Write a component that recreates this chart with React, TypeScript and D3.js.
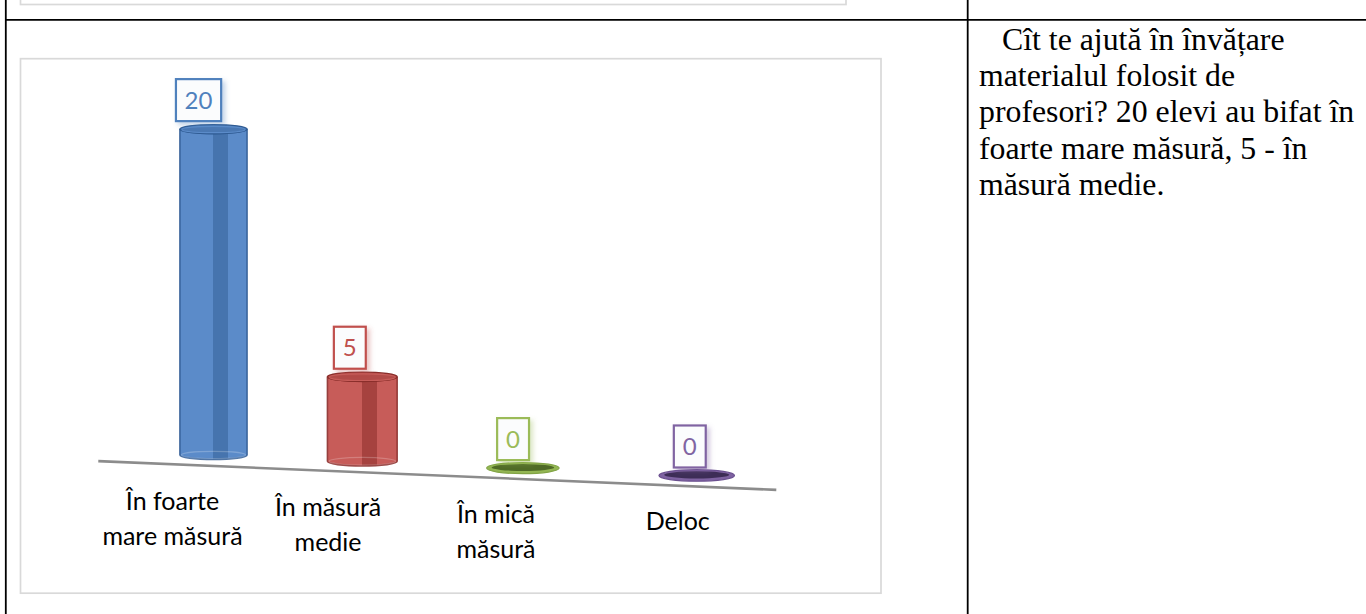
import React from "react";
import * as d3 from "d3";

// Survey answers: how much the teaching material helps with learning
const categoryIds = ["foarte", "medie", "mica", "deloc"];
const categoryLines = [
  ["În foarte", "mare măsură"],
  ["În măsură", "medie"],
  ["În mică", "măsură"],
  ["Deloc"],
];
const values = [20, 5, 0, 0];
const valueMax = 20;

// per-series palette: body, stripe, edge, cap
const bodyColors = ["#5b8bc9", "#c75c59", "#93b653", "#7e62a1"];
const stripeColors = ["#4674ae", "#a6423f", "#76963c", "#5f4683"];
const edgeColors = ["#2f5b93", "#8a2e2b", "#82a445", "#6a4f8f"];
const capColors = ["#4a78b3", "#b24b48", "#4f6a26", "#3d2d56"];
const labelColors = ["#4f81bd", "#c0504d", "#9bbb59", "#8064a2"];

const noteLines = [
  "Cît te ajută în învățare",
  "materialul folosit de",
  "profesori? 20 elevi au bifat în",
  "foarte mare măsură, 5 - în",
  "măsură medie.",
];

const W = 1366;
const H = 614;

// perspective floor: the category axis recedes toward the left
const RHO = 0.856; // depth ratio, near end vs far end
const FLOOR_X0 = 143.1;
const FLOOR_SPAN = 646;
const FLOOR_Y0 = 452;
const FLOOR_SLOPE = 0.0424;
const FRONT_EDGE = 11;
const VANISH_X = 1114;
const BAR_W = 66;
const CAP_RY = 4.4;

const depth = (t: number) => 1 - t * (1 - RHO);
const scaleAt = (t: number) => 1 / depth(t);
const screenT = (t: number) => (t * RHO) / depth(t);
const floorX = d3.scaleLinear().domain([0, 1]).range([FLOOR_X0, FLOOR_X0 + FLOOR_SPAN]);
const floorY = (x: number) => FLOOR_Y0 + FLOOR_SLOPE * (x - FLOOR_X0);

const band = d3.scaleBand<string>().domain(categoryIds).range([0, 1]).padding(0);
const height = d3.scaleLinear().domain([0, valueMax]).range([0, 320]);

// side of a cylinder: straight walls, front half of the top and bottom rims
function cylinderBody(cx: number, yTop: number, yBot: number, rx: number, ry: number) {
  return (
    `M${cx - rx},${yTop} L${cx - rx},${yBot} ` +
    `A${rx},${ry} 0 0 0 ${cx + rx},${yBot} ` +
    `L${cx + rx},${yTop} ` +
    `A${rx},${ry} 0 0 1 ${cx - rx},${yTop} Z`
  );
}

export default function App() {
  const bars = categoryIds.map((id, i) => {
    const t = (band(id) as number) + band.bandwidth() / 2;
    const s = scaleAt(t);
    const cx = floorX(screenT(t));
    const yBot = floorY(cx);
    const h = height(values[i]) * s;
    const yTop = yBot - h;
    const rx = (BAR_W * s) / 2;
    const ry = CAP_RY * s;
    return { id, i, t, s, cx, yBot, yTop, rx, ry, v: values[i] };
  });

  const axisT = [-0.082, 0.983];
  const axisPts = axisT.map((t) => {
    const x = floorX(screenT(t));
    return [x, floorY(x) + FRONT_EDGE] as [number, number];
  });

  const chartFont = "Lato, 'Open Sans', sans-serif";

  return (
    <div style={{ position: "absolute", left: 0, top: 0, width: W, height: H, background: "#fff" }}>
      <svg width={W} height={H} viewBox={`0 0 ${W} ${H}`} style={{ display: "block" }}>
        <defs>
          {bars.map((b) => (
            <linearGradient key={b.id} id={`body-${b.id}`} x1="0" y1="0" x2="1" y2="0">
              <stop offset="0" stopColor={bodyColors[b.i]} />
              <stop offset="0.5" stopColor={bodyColors[b.i]} />
              <stop offset="0.5" stopColor={stripeColors[b.i]} />
              <stop offset="0.71" stopColor={stripeColors[b.i]} />
              <stop offset="0.71" stopColor={bodyColors[b.i]} />
              <stop offset="1" stopColor={bodyColors[b.i]} />
            </linearGradient>
          ))}
          {bars.map((b) => (
            <filter key={b.id} id={`glow-${b.id}`} x="-40%" y="-40%" width="190%" height="190%">
              <feDropShadow dx="3" dy="3" stdDeviation="2.6" floodColor={labelColors[b.i]} floodOpacity="0.35" />
            </filter>
          ))}
        </defs>

        {/* previous chart frame, cut off at the top */}
        <rect x={20.5} y={-20} width={825.5} height={24.5} fill="#fff" stroke="#d9d9d9" strokeWidth={1.7} />

        {/* table rules */}
        <line x1={5.8} y1={0} x2={5.8} y2={H} stroke="#000" strokeWidth={1.8} />
        <line x1={967.7} y1={0} x2={967.7} y2={H} stroke="#000" strokeWidth={1.8} />
        <line x1={5} y1={19.8} x2={W} y2={19.8} stroke="#000" strokeWidth={1.8} />

        {/* chart frame */}
        <rect x={20.5} y={58.7} width={860.5} height={534.5} fill="#fff" stroke="#d9d9d9" strokeWidth={1.7} />

        {/* floor front edge */}
        <line
          x1={axisPts[0][0]}
          y1={axisPts[0][1]}
          x2={axisPts[1][0]}
          y2={axisPts[1][1]}
          stroke="#8c8c8c"
          strokeWidth={2.6}
        />

        {bars.map((b) =>
          b.v > 0 ? (
            <g key={b.id}>
              <path
                d={cylinderBody(b.cx, b.yTop, b.yBot, b.rx, b.ry)}
                fill={`url(#body-${b.id})`}
                stroke={edgeColors[b.i]}
                strokeWidth={1.6}
                strokeOpacity={0.85}
              />
              <ellipse
                cx={b.cx}
                cy={b.yBot}
                rx={b.rx - 1.5}
                ry={b.ry - 0.8}
                fill="none"
                stroke="#fff"
                strokeOpacity={0.22}
                strokeWidth={1.2}
              />
              <ellipse
                cx={b.cx}
                cy={b.yTop}
                rx={b.rx}
                ry={b.ry}
                fill={capColors[b.i]}
                stroke={edgeColors[b.i]}
                strokeWidth={1.4}
              />
              <ellipse
                cx={b.cx}
                cy={b.yTop + 0.4}
                rx={b.rx - 2}
                ry={b.ry - 1.3}
                fill="none"
                stroke={bodyColors[b.i]}
                strokeWidth={1.2}
              />
            </g>
          ) : (
            <g key={b.id}>
              <ellipse
                cx={b.cx}
                cy={b.yBot}
                rx={b.rx}
                ry={b.ry * 1.15}
                fill={bodyColors[b.i]}
                stroke={edgeColors[b.i]}
                strokeWidth={1.2}
              />
              <ellipse
                cx={b.cx}
                cy={b.yBot - 0.6}
                rx={b.rx - 4.5 * b.s}
                ry={b.ry * 0.7}
                fill={capColors[b.i]}
              />
            </g>
          )
        )}

        {/* value labels */}
        {bars.map((b) => {
          const text = String(b.v);
          const bw = text.length * 13.3 + 18.6;
          const bh = 42;
          const bx = b.cx + (b.cx - VANISH_X) * 0.0166 - bw / 2;
          const by = b.yTop - 8 - bh;
          return (
            <g key={b.id}>
              <rect
                x={bx}
                y={by}
                width={bw}
                height={bh}
                fill="#fbfcfd"
                stroke={labelColors[b.i]}
                strokeWidth={2.2}
                filter={`url(#glow-${b.id})`}
              />
              <text
                x={bx + bw / 2}
                y={by + bh / 2 + 8.6}
                textAnchor="middle"
                fontFamily={chartFont}
                fontSize={24}
                fill={labelColors[b.i]}
              >
                {text}
              </text>
            </g>
          );
        })}

        {/* category labels */}
        {bars.map((b) => {
          const lx = b.cx + (b.cx - VANISH_X) * 0.0455;
          const ly = floorY(b.cx) + FRONT_EDGE + 44;
          return (
            <text
              key={b.id}
              textAnchor="middle"
              fontFamily={chartFont}
              fontSize={25}
              fill="#000"
            >
              {categoryLines[b.i].map((line, k) => (
                <tspan key={k} x={lx} y={ly + k * 35}>
                  {line}
                </tspan>
              ))}
            </text>
          );
        })}

        {/* note in the right column */}
        <text fontFamily="'Liberation Serif', 'Times New Roman', serif" fontSize={31.8} fill="#000">
          {noteLines.map((line, k) => (
            <tspan key={k} x={k === 0 ? 1002 : 979} y={49.5 + k * 36.4}>
              {line}
            </tspan>
          ))}
        </text>
      </svg>
    </div>
  );
}
